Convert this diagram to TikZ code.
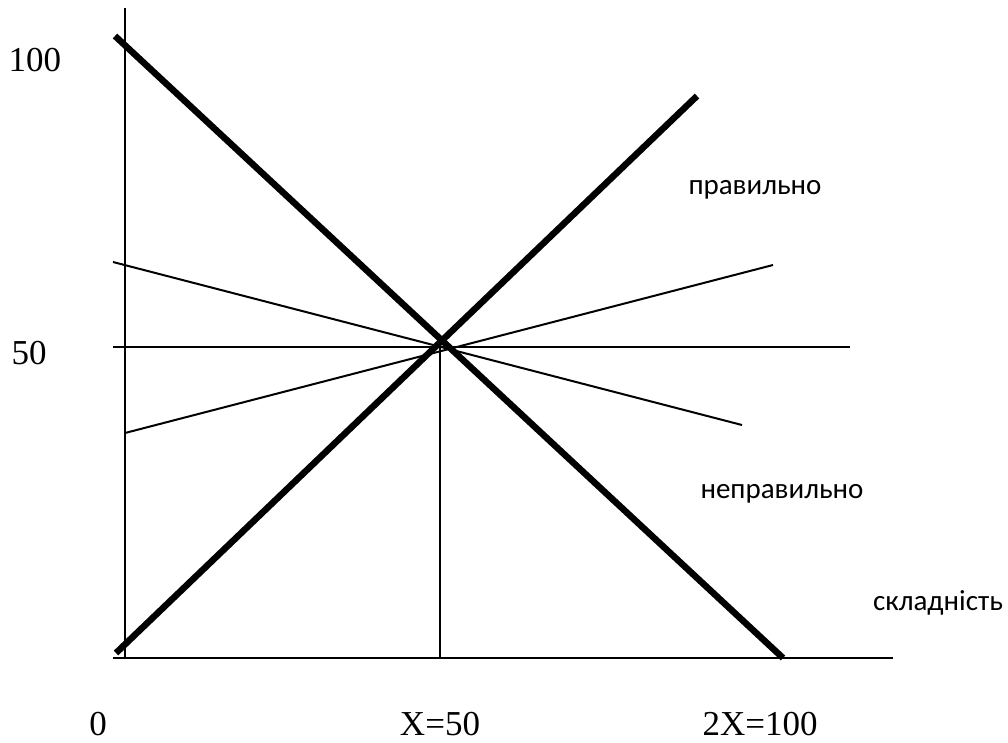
\documentclass[tikz,border=0pt]{standalone}
\usepackage{fontspec}
\setmainfont{Liberation Serif}
\newfontfamily\labsans{Carlito}
\begin{document}
\begin{tikzpicture}[x=1pt,y=-1pt,
  thinline/.style={line width=2pt,line cap=butt},
  thickline/.style={line width=6.5pt,line cap=butt},
  numlab/.style={font=\fontsize{35}{40}\selectfont,inner sep=0pt,anchor=center},
  wordlab/.style={font=\labsans\fontsize{29}{34}\selectfont,inner sep=0pt,anchor=center}]
\useasboundingbox (0,0) rectangle (1008,742);
% axes
\coordinate (ytop) at (125,8);
\coordinate (ybot) at (125,658);
\coordinate (xl) at (113,658);
\coordinate (xr) at (893,658);
\draw[thinline] (ytop) -- (ybot);
\draw[thinline] (xl) -- (xr);
% mid lines
\coordinate (hl) at (113,347);
\coordinate (hr) at (850,347);
\coordinate (vt) at (440,347);
\coordinate (vb) at (440,658);
\draw[thinline] (hl) -- (hr);
\draw[thinline] (vt) -- (vb);
% thin slanted lines
\coordinate (a1) at (113,262);
\coordinate (a2) at (742,425);
\coordinate (b1) at (125,433);
\coordinate (b2) at (773,265);
\draw[thinline] (a1) -- (a2);
\draw[thinline] (b1) -- (b2);
% thick lines
\coordinate (d1) at (115,36);
\coordinate (d2) at (783,658);
\coordinate (u1) at (116,653);
\coordinate (u2) at (697,96);
\draw[thickline] (d1) -- (d2);
\draw[thickline] (u1) -- (u2);
% labels
\node[numlab] (l100) at (35,60) {100};
\node[numlab] (l50) at (29,353) {50};
\node[numlab] (l0) at (98,724) {0};
\node[numlab] (lx) at (440,724) {X=50};
\node[numlab] (l2x) at (760,724) {2X=100};
\node[wordlab] (prav) at (755,190) {правильно};
\node[wordlab] (neprav) at (782,494) {неправильно};
\node[wordlab] (skl) at (938,603) {складність};
\end{tikzpicture}
\end{document}
